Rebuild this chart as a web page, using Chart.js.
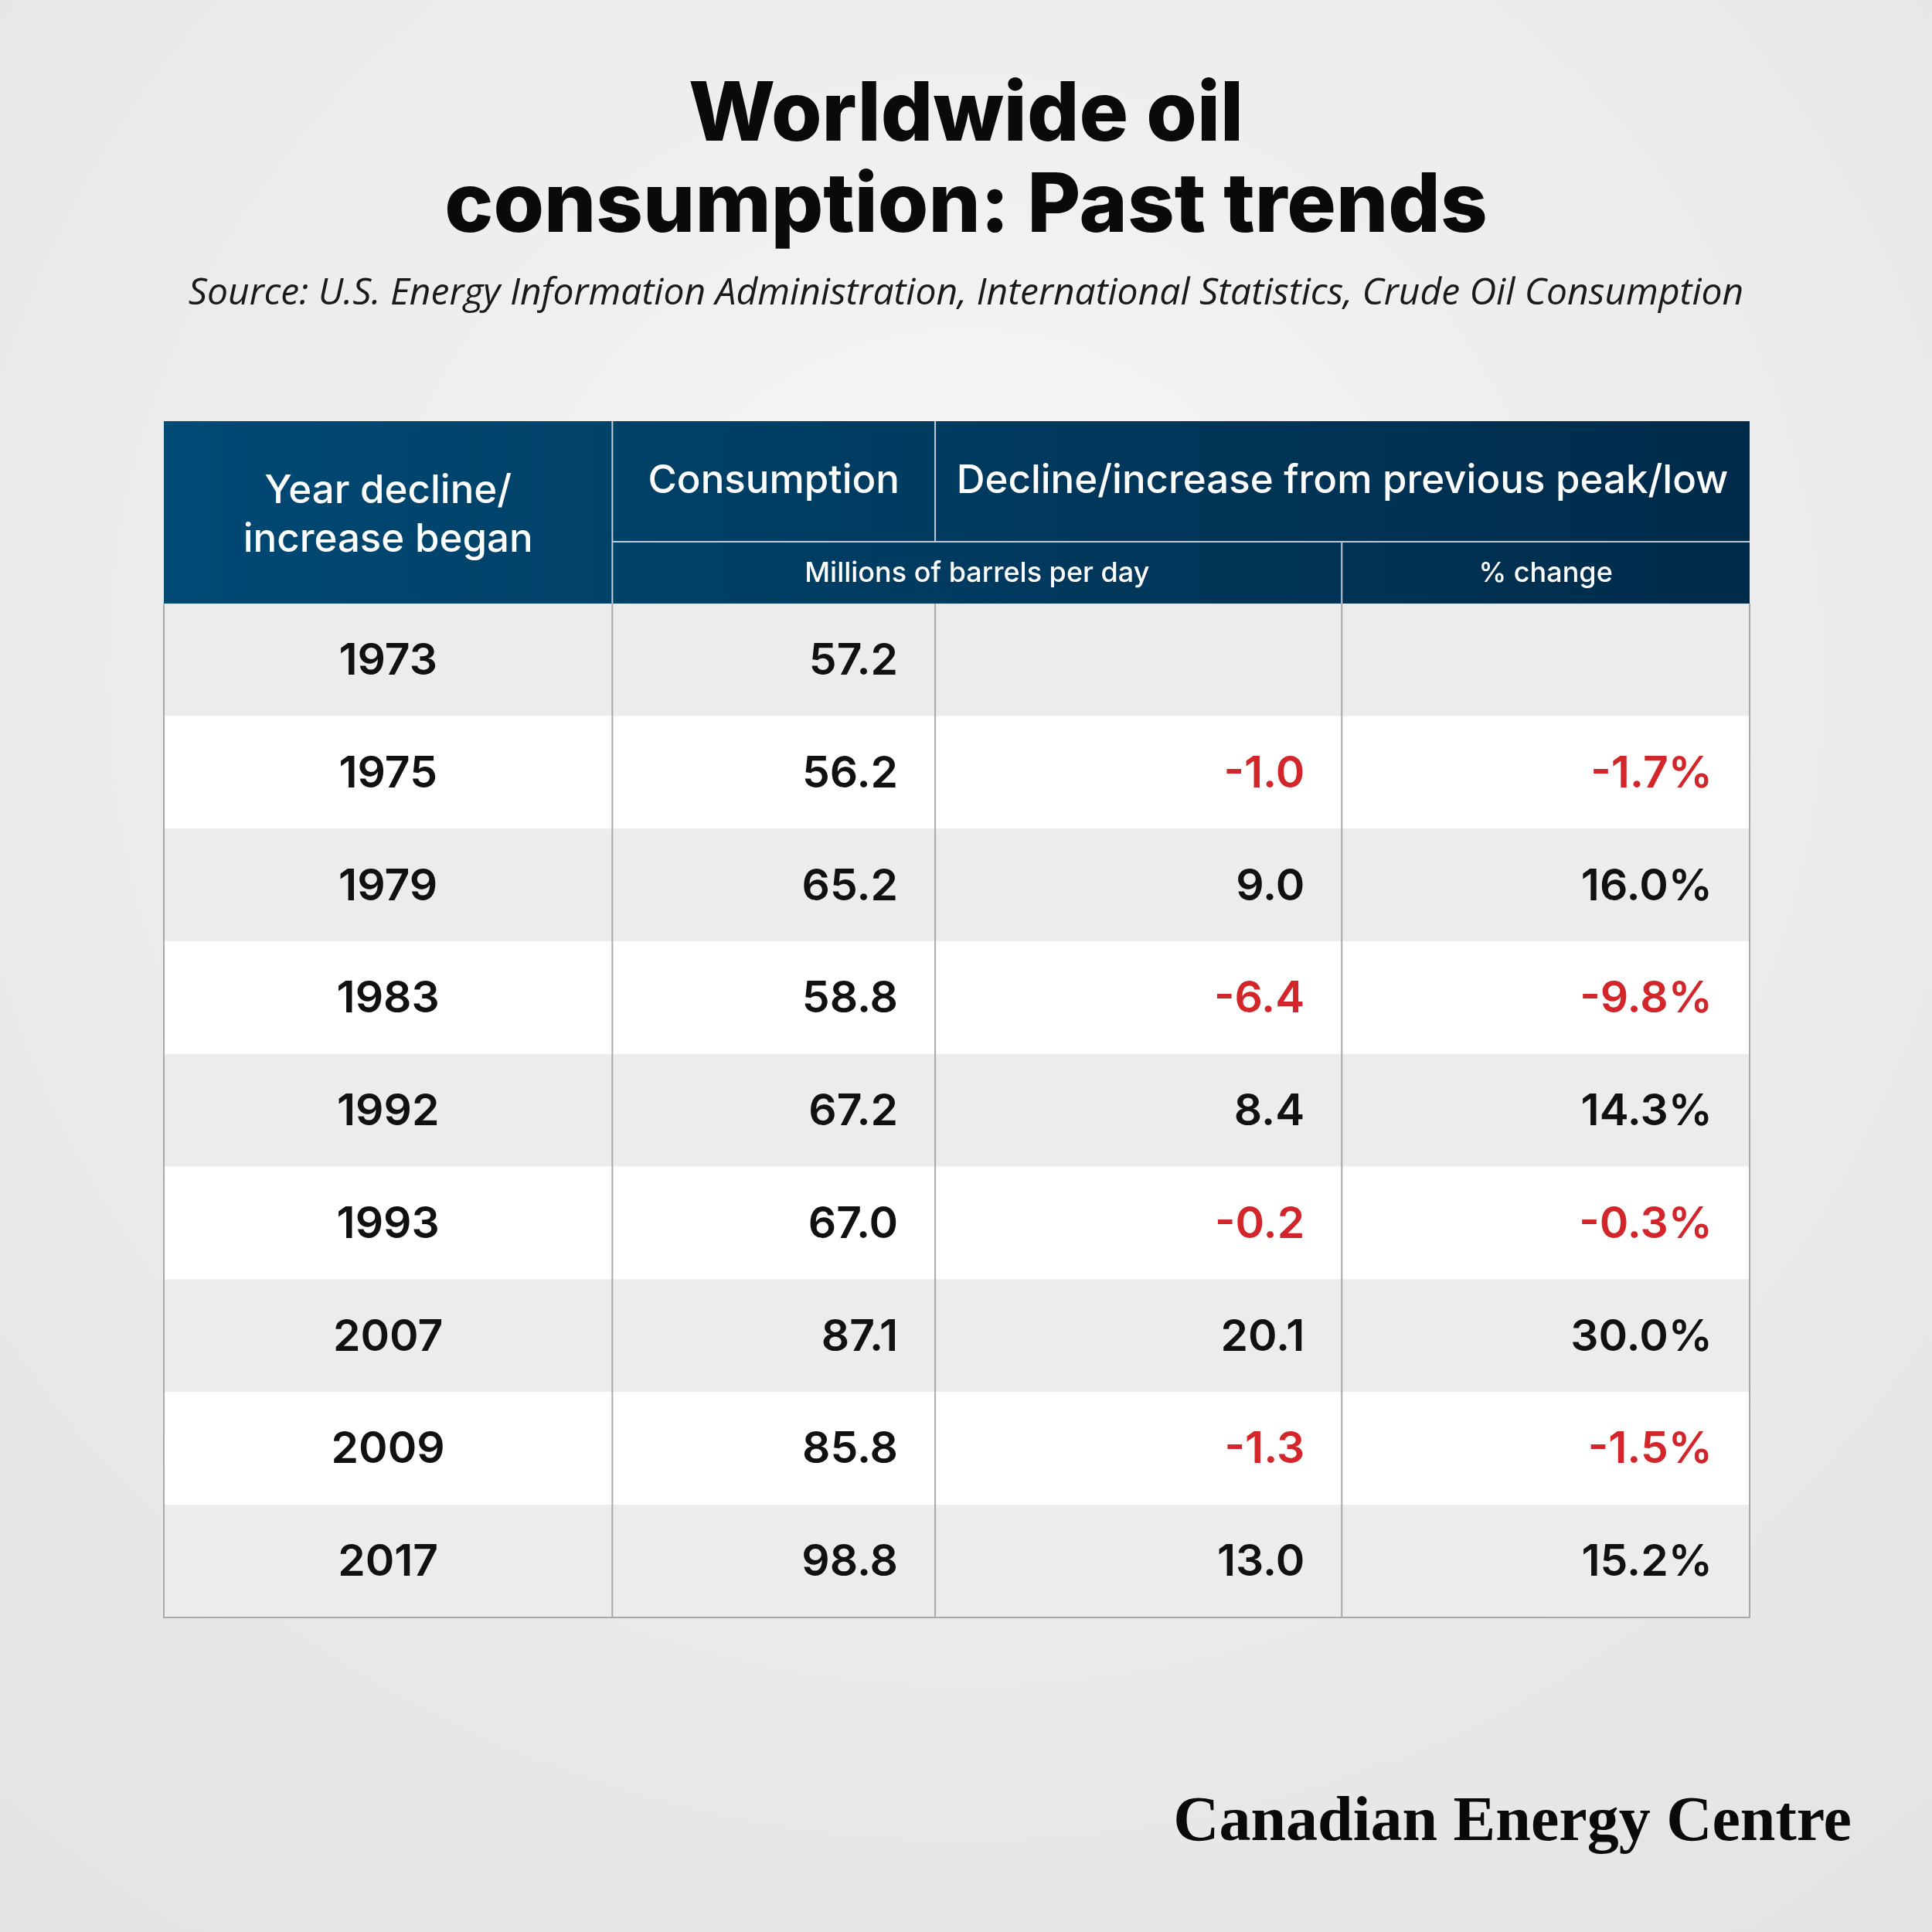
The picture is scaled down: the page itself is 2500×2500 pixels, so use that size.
<!DOCTYPE html>
<html>
<head>
<meta charset="utf-8">
<script src="https://cdn.jsdelivr.net/npm/chart.js@4.4.0/dist/chart.umd.min.js"></script>
<style>
  html, body { margin:0; padding:0; width:2500px; height:2500px; overflow:hidden; }
  body { background: radial-gradient(circle at 50% 35%, #f7f7f7 0%, #ebebeb 55%, #e2e3e5 100%); }
  #wrap { position:absolute; left:0; top:0; width:2500px; height:2500px; }
</style>
</head>
<body>
<div id="wrap"><canvas id="tbl" width="2500" height="2500"></canvas></div>
<script>
// =======================================================
// Données
// =======================================================

const years = ["1973","1975","1979","1983","1992","1993","2007","2009","2017"];
const consumption = [57.2, 56.2, 65.2, 58.8, 67.2, 67.0, 87.1, 85.8, 98.8];
const change = [null, -1.0, 9.0, -6.4, 8.4, -0.2, 20.1, -1.3, 13.0];
const pctChange = [null, -1.7, 16.0, -9.8, 14.3, -0.3, 30.0, -1.5, 15.2];

// colonnes (unités de l'axe x)
const COLS = [0, 364, 626, 956, 1287];
const FONT = "Inter, 'Open Sans', sans-serif";

// =======================================================
// Plugin : en-tête, titres, textes des cellules
// =======================================================

const tablePlugin = {
    id: "tablePlugin",
    afterDatasetsDraw(chart){
        const ctx = chart.ctx;
        const x = chart.scales.x, y = chart.scales.y;
        const ca = chart.chartArea;
        const px = v => x.getPixelForValue(v);
        const hTop = 545, hMid = 701, hBot = ca.top;

        ctx.save();

        // en-tête
        const g = ctx.createLinearGradient(ca.left, 0, ca.right, 0);
        g.addColorStop(0, "#004a75");
        g.addColorStop(1, "#002b4a");
        ctx.fillStyle = g;
        ctx.fillRect(ca.left, hTop, ca.right - ca.left, hBot - hTop);

        ctx.strokeStyle = "rgba(255,255,255,0.75)";
        ctx.lineWidth = 2;
        ctx.beginPath();
        ctx.moveTo(px(COLS[1]), hTop); ctx.lineTo(px(COLS[1]), hBot);
        ctx.moveTo(px(COLS[2]), hTop); ctx.lineTo(px(COLS[2]), hMid);
        ctx.moveTo(px(COLS[1]), hMid); ctx.lineTo(ca.right, hMid);
        ctx.moveTo(px(COLS[3]), hMid); ctx.lineTo(px(COLS[3]), hBot);
        ctx.stroke();

        ctx.fillStyle = "#ffffff";
        ctx.textAlign = "center";
        ctx.textBaseline = "middle";
        ctx.font = "500 51px " + FONT;
        const c0 = px((COLS[0] + COLS[1]) / 2);
        ctx.fillText("Year decline/", c0, 636);
        ctx.fillText("increase began", c0, 699);
        ctx.fillText("Consumption", px((COLS[1] + COLS[2]) / 2), 623);
        ctx.fillText("Decline/increase from previous peak/low", px((COLS[2] + COLS[4]) / 2), 623);
        ctx.font = "500 36px " + FONT;
        ctx.fillText("Millions of barrels per day", px((COLS[1] + COLS[3]) / 2), 742);
        ctx.fillText("% change", px((COLS[3] + COLS[4]) / 2), 742);

        // grille du corps
        ctx.strokeStyle = "#a9a9a9";
        ctx.lineWidth = 2;
        ctx.beginPath();
        for (let i = 1; i < COLS.length - 1; i++){
            ctx.moveTo(px(COLS[i]), ca.top); ctx.lineTo(px(COLS[i]), ca.bottom);
        }
        ctx.moveTo(ca.left, ca.top); ctx.lineTo(ca.left, ca.bottom);
        ctx.lineTo(ca.right, ca.bottom); ctx.lineTo(ca.right, ca.top);
        ctx.stroke();

        // cellules
        ctx.font = "600 57px " + FONT;
        years.forEach((yr, i) => {
            const cy = y.getPixelForValue(i) + 2;
            ctx.fillStyle = "#111111";
            ctx.textAlign = "center";
            ctx.fillText(yr, c0, cy);
            ctx.textAlign = "right";
            ctx.fillText(consumption[i].toFixed(1), px(COLS[2]) - 48, cy);
            if (change[i] !== null){
                ctx.fillStyle = change[i] < 0 ? "#d3262b" : "#111111";
                ctx.fillText(change[i].toFixed(1), px(COLS[3]) - 48, cy);
                ctx.fillStyle = pctChange[i] < 0 ? "#d3262b" : "#111111";
                ctx.fillText(pctChange[i].toFixed(1) + "%", px(COLS[4]) - 48, cy);
            }
        });

        // titre, source, logo
        ctx.fillStyle = "#0a0a0a";
        ctx.textAlign = "center";
        ctx.font = "800 106px " + FONT;
        ctx.fillText("Worldwide oil", 1250, 150);
        ctx.fillText("consumption: Past trends", 1250, 268);
        ctx.font = "italic 48px 'Open Sans', sans-serif";
        ctx.fillStyle = "#1a1a1a";
        ctx.fillText("Source: U.S. Energy Information Administration, International Statistics, Crude Oil Consumption", 1250, 380);
        ctx.textAlign = "right";
        ctx.fillStyle = "#0a0a0a";
        ctx.font = "bold 82px 'Liberation Serif', 'DejaVu Serif', serif";
        ctx.fillText("Canadian Energy Centre", 2396, 2360);

        ctx.restore();
    }
};

// =======================================================
// Tableau
// =======================================================

new Chart(document.getElementById("tbl"), {
    type: "bar",
    data: {
        labels: years,
        datasets: [{
            data: years.map(() => [COLS[0], COLS[COLS.length - 1]]),
            backgroundColor: years.map((_, i) => i % 2 === 0 ? "#ececec" : "#ffffff"),
            barPercentage: 1,
            categoryPercentage: 1,
            borderWidth: 0
        }]
    },
    options: {
        responsive: false,
        animation: false,
        indexAxis: "y",
        layout: { padding: { left: 212, right: 236, top: 781, bottom: 407 } },
        scales: {
            x: { display: false, min: COLS[0], max: COLS[COLS.length - 1] },
            y: { display: false }
        },
        plugins: { legend: { display: false }, tooltip: { enabled: false } }
    },
    plugins: [tablePlugin]
});
</script>
</body>
</html>
